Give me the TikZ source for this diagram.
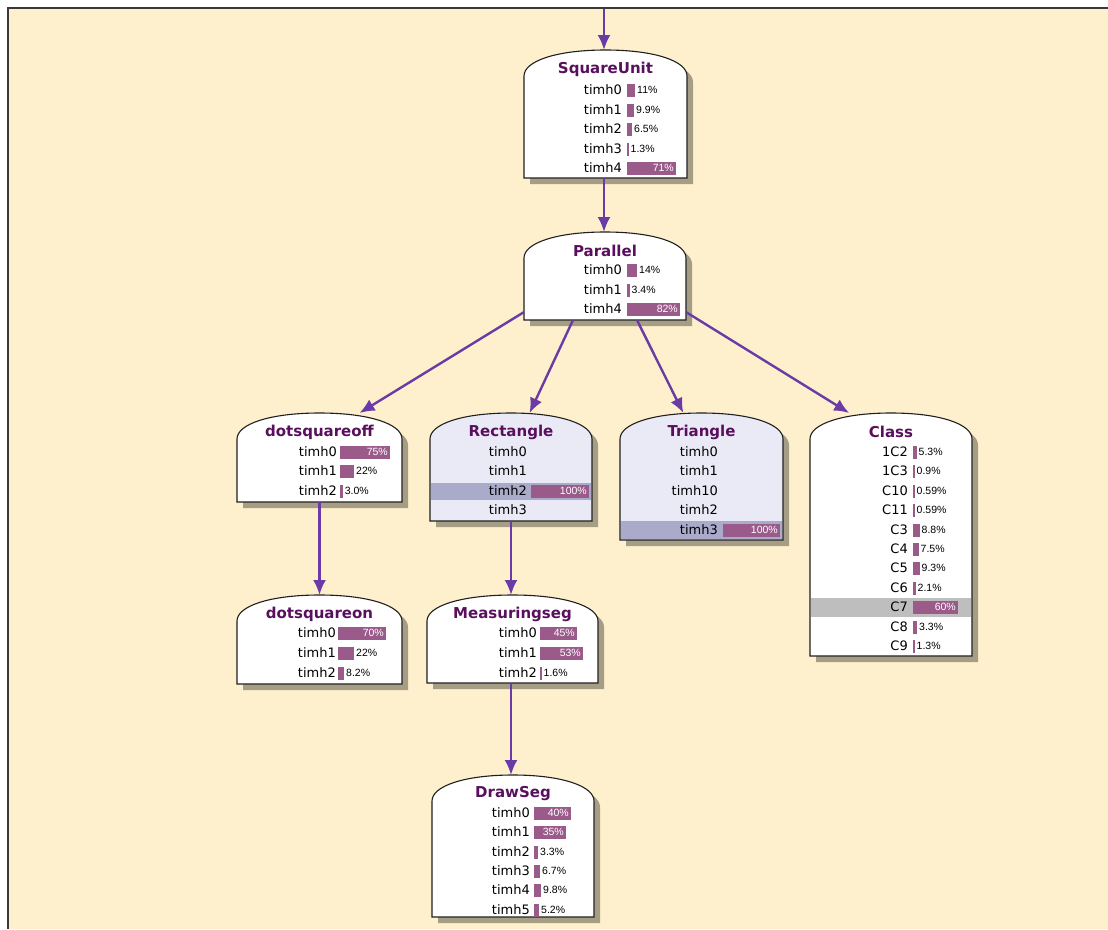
\documentclass[tikz,border=0pt]{standalone}
\usepackage{fontspec}
\setmainfont{DejaVu Sans}
\newfontfamily\pctf{Liberation Sans}
\usetikzlibrary{arrows.meta,calc}
\definecolor{bgc}{HTML}{FFF0CD}
\definecolor{framec}{HTML}{3A3A3A}
\definecolor{shadc}{HTML}{A59D84}
\definecolor{arrc}{HTML}{6A3BA6}
\definecolor{ttlc}{HTML}{5A0F5E}
\definecolor{barc}{HTML}{9A5A8A}
\definecolor{lavc}{HTML}{EAEAF6}
\definecolor{bandc}{HTML}{AAAACB}
\definecolor{grayband}{HTML}{BEBEBE}
\newcount\tcnt
\newcommand\domepath[4]{({#1},{#4}) -- ({#1},{(#2)+26}) .. controls ({#1},{(#2)+11}) and ({(#1)+0.2*((#3)-(#1))},{#2}) .. ({((#1)+(#3))/2},{#2}) .. controls ({(#3)-0.2*((#3)-(#1))},{#2}) and ({#3},{(#2)+11}) .. ({#3},{(#2)+26}) -- ({#3},{#4}) -- cycle}
% name, L, T, R, B, fill, title
\newcommand\dbox[7]{%
  \pgfmathsetmacro\bw{#4-#2}\pgfmathsetmacro\bh{#5-#3}%
  \pgfmathsetmacro\bcx{(#2+#4)/2}\pgfmathsetmacro\bcy{(#3+#5)/2}%
  \node[inner sep=0pt,outer sep=0pt,minimum width=\bw pt,minimum height=\bh pt] (#1) at (\bcx,\bcy) {};
  \fill[shadc] \domepath{#2+6}{#3+6}{#4+6}{#5+6};
  \fill[#6] \domepath{#2}{#3}{#4}{#5};
  \draw[bord] \domepath{#2}{#3}{#4}{#5};
  \node[ttl] (#1-t) at (\bcx,{#3+19}) {#7};
}
% band: L, y1, R, y2, color
\newcommand\band[5]{\fill[#5] ({(#1)+0.7},{#2}) rectangle ({(#3)-0.7},{#4});}
% label: x, y, text
\newcommand\lb[3]{\global\advance\tcnt by 1 \edef\tn{n\the\tcnt}\node[lbl] (\tn) at (#1,#2) {#3};}
% bar: x, y, w, text
\newcommand\pb[4]{%
  \fill[barc] ({#1},{(#2)-6.5}) rectangle ({(#1)+(#3)},{(#2)+6.5});
  \global\advance\tcnt by 1 \edef\tn{n\the\tcnt}%
  \ifdim #3pt>24pt
    \node[pin] (\tn) at ({(#1)+(#3)-2},#2) {#4};
  \else
    \node[pout] (\tn) at ({(#1)+(#3)+2},#2) {#4};
  \fi}
\begin{document}
\begin{tikzpicture}[x=1pt,y=-1pt,
  bord/.style={draw=black!88,line width=1.1pt},
  arr/.style={draw=arrc,line width=2.4pt,-{Latex[length=15pt,width=13pt]}},
  ttl/.style={font=\fontsize{15}{15}\selectfont\bfseries,text=ttlc,inner sep=0pt},
  lbl/.style={font=\fontsize{13}{13}\selectfont,text=black,inner sep=0pt,anchor=east,text height=9.4pt,text depth=0pt},
  pin/.style={font=\pctf\fontsize{10.5}{10.5}\selectfont,text=white,inner sep=0pt,anchor=east,text height=7.5pt,text depth=0pt},
  pout/.style={font=\pctf\fontsize{10.5}{10.5}\selectfont,text=black,inner sep=0pt,anchor=west,text height=7.5pt,text depth=0pt}]
\useasboundingbox (0,0) rectangle (1108,929);
\fill[white] (0,0) rectangle (1108,929);
\fill[bgc] (8,8) rectangle (1108,929);
\draw[framec,line width=1.6pt] (8,929) -- (8,8) -- (1108,8);

% SquareUnit
\dbox{sq}{524}{50}{687}{178}{white}{SquareUnit}
\lb{622}{90}{timh0}\pb{627}{90}{8}{11\%}
\lb{622}{110}{timh1}\pb{627}{110}{7}{9.9\%}
\lb{622}{129}{timh2}\pb{627}{129}{5}{6.5\%}
\lb{622}{149}{timh3}\pb{627}{149}{1.5}{1.3\%}
\lb{622}{168}{timh4}\pb{627}{168}{49}{71\%}

% Parallel
\dbox{par}{524}{232}{686}{320}{white}{Parallel}
\lb{622}{270}{timh0}\pb{627}{270}{10}{14\%}
\lb{622}{290}{timh1}\pb{627}{290}{2.5}{3.4\%}
\lb{622}{309}{timh4}\pb{627}{309}{53}{82\%}

% dotsquareoff
\dbox{dso}{237}{413}{402}{502}{white}{dotsquareoff}
\lb{337}{452}{timh0}\pb{340}{452}{50}{75\%}
\lb{337}{471}{timh1}\pb{340}{471}{14}{22\%}
\lb{337}{491}{timh2}\pb{340}{491}{2.7}{3.0\%}

% Rectangle
\dbox{rect}{430}{413}{592}{521}{lavc}{Rectangle}
\band{430}{483}{592}{500}{bandc}
\lb{527}{452}{timh0}
\lb{527}{471}{timh1}
\lb{527}{491}{timh2}\pb{531}{491}{58}{100\%}
\lb{527}{510}{timh3}

% Triangle
\dbox{tri}{620}{413}{783}{540}{lavc}{Triangle}
\band{620}{521}{783}{539.4}{bandc}
\lb{718}{452}{timh0}
\lb{718}{471}{timh1}
\lb{718}{491}{timh10}
\lb{718}{510}{timh2}
\lb{718}{530}{timh3}\pb{723}{530}{57}{100\%}

% Class
\dbox{cls}{810}{413}{972}{656}{white}{Class}
\band{810}{598}{972}{617}{grayband}
\lb{908}{452}{1C2}\pb{913}{452}{3.5}{5.3\%}
\lb{908}{471}{1C3}\pb{913}{471}{1.5}{0.9\%}
\lb{908}{491}{C10}\pb{913}{491}{1.5}{0.59\%}
\lb{908}{510}{C11}\pb{913}{510}{1.5}{0.59\%}
\lb{908}{530}{C3}\pb{913}{530}{6.5}{8.8\%}
\lb{908}{549}{C4}\pb{913}{549}{5.5}{7.5\%}
\lb{908}{568}{C5}\pb{913}{568}{6.5}{9.3\%}
\lb{908}{588}{C6}\pb{913}{588}{2.5}{2.1\%}
\lb{908}{607}{C7}\pb{913}{607}{45}{60\%}
\lb{908}{627}{C8}\pb{913}{627}{4}{3.3\%}
\lb{908}{646}{C9}\pb{913}{646}{1.5}{1.3\%}

% dotsquareon
\dbox{dson}{237}{595}{402}{684}{white}{dotsquareon}
\lb{336}{633}{timh0}\pb{338}{633}{48}{70\%}
\lb{336}{653}{timh1}\pb{338}{653}{16}{22\%}
\lb{336}{673}{timh2}\pb{338}{673}{6}{8.2\%}

% Measuringseg
\dbox{meas}{427}{595}{598}{683}{white}{Measuringseg}
\lb{537}{633}{timh0}\pb{540}{633}{37}{45\%}
\lb{537}{653}{timh1}\pb{540}{653}{43}{53\%}
\lb{537}{673}{timh2}\pb{540}{673}{1.5}{1.6\%}

% DrawSeg
\dbox{dseg}{432}{775}{594}{917}{white}{DrawSeg}
\lb{530}{813}{timh0}\pb{534}{813}{37}{40\%}
\lb{530}{832}{timh1}\pb{534}{832}{32}{35\%}
\lb{530}{852}{timh2}\pb{534}{852}{4}{3.3\%}
\lb{530}{871}{timh3}\pb{534}{871}{6}{6.7\%}
\lb{530}{890}{timh4}\pb{534}{890}{7}{9.8\%}
\lb{530}{910}{timh5}\pb{534}{910}{5}{5.2\%}

% connectors
\coordinate (topin) at (604,9);
\draw[arr] (topin) -- (topin |- sq.north);
\draw[arr] (topin |- sq.south) -- (topin |- par.north);
\draw[arr] (par.204) -- (dso.48);
\draw[arr] (par.234) -- (rect.71);
\draw[arr] (par.306) -- (tri.106);
\draw[arr] (par.336) -- (cls.109);
\draw[arr] (dso.south) -- (dso.south |- dson.north);
\draw[arr] (rect.south) -- (rect.south |- meas.north);
\draw[arr] (rect.south |- meas.south) -- (rect.south |- dseg.north);
\end{tikzpicture}
\end{document}
